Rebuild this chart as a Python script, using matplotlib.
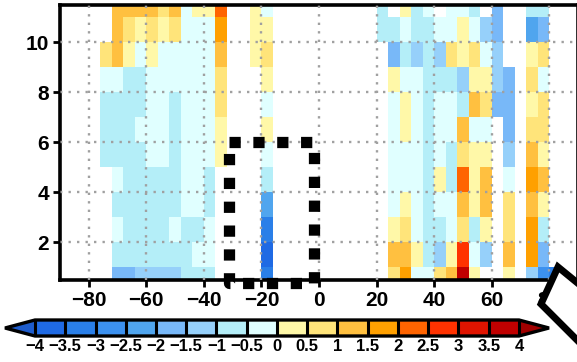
import numpy as np
import matplotlib
matplotlib.use("Agg")
import matplotlib.pyplot as plt
from matplotlib.colors import ListedColormap, BoundaryNorm
from matplotlib.patches import Polygon

nan = np.nan

# contour levels and fill colours (one per interval, plus the two extensions)
levels = [-4, -3.5, -3, -2.5, -2, -1.5, -1, -0.5, 0, 0.5, 1, 1.5, 2, 2.5, 3, 3.5, 4]
fill_colors = ["#1f6ae4", "#2a7fe8", "#3c91ef", "#50a5ee", "#78b8f8", "#96d0fa",
               "#b4eef8", "#e0ffff", "#fff8a8", "#ffe47a", "#ffc040", "#ffa000",
               "#ff6400", "#ff3200", "#e01400", "#c00000"]
color_under = "#1e5ccc"
color_over = "#a00000"

# grid geometry: 4-degree columns, unit rows
x_edges = np.arange(-76, 85, 4)          # 40 columns, centres -74 ... 82
y_edges = np.arange(0, 13, 1)            # 12 rows, centres 0.5 ... 11.5

# western block: columns centred at -74 ... -18 (rows listed top to bottom)
west_block = [
    [nan, 1.25, 1.25, 1.25, 1.25, 0.75, 1.25, -0.25, 0.25, 0.25, 2.25, nan, nan, 0.25, -0.25],
    [nan, 1.25, 0.75, 0.25, 0.75, 0.25, 0.75, -0.25, -0.25, -0.25, 1.75, nan, nan, 0.25, 0.25],
    [0.75, 1.25, 0.25, -0.25, 0.25, -0.25, -0.25, -0.25, -0.25, -0.25, 1.25, nan, nan, 0.25, 0.75],
    [-0.25, -0.25, -0.75, -0.75, -0.25, -0.25, -0.25, -0.25, -0.25, -0.25, 0.75, nan, nan, nan, 0.25],
    [-0.75, -0.75, -0.75, -0.75, -0.25, -0.25, -0.75, -0.25, -0.25, -0.25, 0.75, nan, nan, nan, -0.25],
    [-0.75, -0.75, -0.75, -0.25, -0.25, -0.25, -0.75, -0.25, -0.25, -0.25, 0.25, nan, nan, nan, 0.25],
    [-0.75, -0.75, -0.75, -0.75, -0.25, -0.25, -0.75, -0.25, -0.25, -0.25, 0.25, nan, nan, nan, -0.25],
    [nan, -0.25, -0.75, -0.75, -0.75, -0.75, -0.75, -0.25, -0.25, -0.75, nan, nan, nan, nan, -0.75],
    [nan, -0.75, -0.75, -0.75, -0.75, -0.75, -0.75, -0.25, -0.25, -0.75, nan, nan, nan, nan, -2.25],
    [nan, -0.25, -0.75, -0.75, -0.75, -0.75, -0.25, -0.75, -0.75, -0.25, nan, nan, nan, nan, -3.25],
    [nan, -0.75, -0.75, -0.75, -0.75, -0.75, -0.75, -0.75, -0.25, -0.25, nan, nan, nan, nan, -3.75],
    [nan, -1.75, -1.75, -1.25, -1.25, -1.25, -1.25, -0.75, -0.75, -0.75, nan, nan, nan, nan, -3.25],
]

# eastern block: columns centred at 22 ... 82 (rows listed top to bottom)
east_block = [
    [-0.75, nan, 0.25, -0.75, -0.25, nan, -0.25, -0.25, -0.75, nan, -1.75, nan, nan, -0.75, -0.75, nan],
    [-0.75, -0.75, -0.25, -0.75, -0.75, -0.25, -0.25, 0.25, -0.25, -1.25, -1.75, nan, nan, -2.25, -1.75, nan],
    [nan, -1.75, -0.75, -1.25, -0.75, -1.25, 0.75, 0.25, 0.75, -0.25, -1.25, nan, nan, 0.25, 0.75, nan],
    [nan, 0.25, -0.25, -0.25, -0.75, -0.75, -0.75, -1.25, 0.25, 0.25, -1.25, -1.75, nan, 0.75, -0.25, nan],
    [nan, -0.25, 0.25, -0.25, -0.75, -0.25, -0.25, -0.75, 1.25, 0.75, -1.75, -1.75, nan, 0.25, 0.75, nan],
    [nan, -0.25, 0.25, -0.25, -0.75, -0.25, -0.25, 1.25, -0.25, -0.25, nan, -1.75, nan, 0.75, 0.75, nan],
    [nan, -0.25, -0.25, -0.25, -0.75, -0.25, -0.75, 0.75, 0.25, 0.25, nan, -1.25, nan, 1.25, 0.25, nan],
    [nan, -0.25, -0.25, -0.25, -0.75, 0.25, -0.75, 2.25, 0.25, 1.25, nan, -0.25, nan, 1.75, 1.25, nan],
    [nan, -0.25, 0.25, -0.25, -0.75, -0.25, -0.25, 1.25, 0.25, 1.25, nan, 0.75, nan, 1.25, 0.25, nan],
    [nan, 0.25, 0.75, -0.25, -0.75, -0.75, -0.25, 0.75, -0.75, 0.25, nan, 0.75, nan, 1.75, -0.75, nan],
    [nan, 1.25, 1.25, 0.25, -0.75, -1.25, 0.25, 2.75, -0.25, -1.25, nan, 1.25, nan, 1.75, -1.75, nan],
    [nan, 0.75, 1.75, -0.25, -0.25, 0.75, 1.25, 3.75, 0.25, nan, nan, 0.25, nan, -1.25, -2.75, -3.25],
]

x_ticks = [-80, -60, -40, -20, 0, 20, 40, 60, 80]
y_ticks = [2, 4, 6, 8, 10]

# outline of the boxed region
box_x = [-31.3, -1.7, -1.7, -31.3, -31.3]
box_y = [6.0, 6.0, 0.36, 0.36, 6.0]

# assemble the full field
n_cols = len(x_edges) - 1
field = np.full((len(y_edges) - 1, n_cols), nan)
west = np.array(west_block)[::-1]
east = np.array(east_block)[::-1]
field[:, :west.shape[1]] = west
field[:, n_cols - east.shape[1]:] = east

plt.rcParams["font.family"] = ["Liberation Sans", "DejaVu Sans"]
plt.rcParams["font.weight"] = "bold"

cmap = ListedColormap(fill_colors)
cmap.set_under(color_under)
cmap.set_over(color_over)
norm = BoundaryNorm(levels, cmap.N)

fig = plt.figure(figsize=(5.77, 3.62), dpi=100)
W, H = 577.0, 362.0
ax = fig.add_axes([60 / W, (H - 279.5) / H, 518 / W, 274.5 / H])

mesh = ax.pcolormesh(x_edges, y_edges, np.ma.masked_invalid(field),
                     cmap=cmap, norm=norm, shading="flat", zorder=1)

ax.set_xlim(-90, 90)
ax.set_ylim(0.5, 11.5)
ax.set_xticks(x_ticks)
ax.set_yticks(y_ticks)
ax.set_xticklabels([f"{t:g}".replace("-", "\u2212") for t in x_ticks])
ax.set_yticklabels([f"{t:g}" for t in y_ticks])
ax.tick_params(direction="out", length=5, width=2, labelsize=15, pad=3)
for s in ax.spines.values():
    s.set_linewidth(2.6)

ax.set_axisbelow(False)
ax.grid(True, color="#a0a0a0", linestyle=(0, (1, 2.6)), linewidth=1.7)

ax.plot(box_x, box_y, color="black", linewidth=8.1, linestyle=(0, (1, 1.12)),
        dash_capstyle="butt", clip_on=False, zorder=6)

# horizontal label bar (axes spans the triangles as well)
ext_px = 30.0
cax = fig.add_axes([(35 - ext_px) / W, (H - 336) / H, (484 + 2 * ext_px) / W, 16 / H])
cb = fig.colorbar(mesh, cax=cax, orientation="horizontal", extend="both",
                  extendfrac=ext_px / 484, ticks=levels, drawedges=True)
cb.outline.set_linewidth(2.4)
cb.dividers.set_color("black")
cb.dividers.set_linewidth(2.2)
cb.ax.tick_params(length=0, labelsize=12, pad=2)
cb.ax.set_xticklabels([f"{v:g}".replace("-", "\u2212") for v in levels])

# rotated marker in the lower right corner
diamond = Polygon([(541 / W, (H - 304) / H), (558 / W, (H - 267) / H),
                   (602 / W, (H - 303) / H), (582 / W, (H - 345) / H)],
                  closed=True, facecolor="white", edgecolor="black",
                  linewidth=5, transform=fig.transFigure, zorder=10,
                  clip_on=False)
fig.patches.append(diamond)

fig.savefig("out.png", dpi=100)
